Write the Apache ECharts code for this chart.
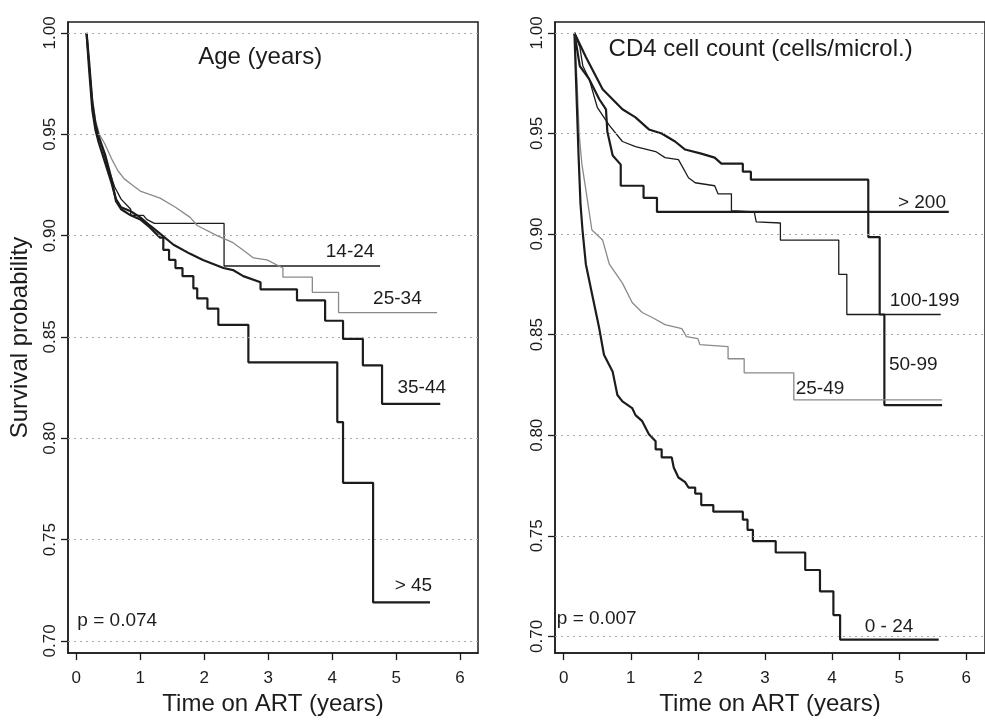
<!DOCTYPE html>
<html>
<head>
<meta charset="utf-8">
<title>Survival by age and CD4 count</title>
<script src="https://cdn.jsdelivr.net/npm/echarts@6/dist/echarts.min.js"></script>
<style>
  html, body { margin: 0; padding: 0; background: #fff; }
  #chart { width: 985px; height: 721px; }
</style>
</head>
<body>
<div id="chart"></div>
<script>
// tick labels
const xTicks = [0, 1, 2, 3, 4, 5, 6];
const yTicks = [0.70, 0.75, 0.80, 0.85, 0.90, 0.95, 1.00];

// left panel: age groups, [time (years), survival]
const age1424 = [[0.16, 1], [0.2, 0.984], [0.26, 0.963], [0.32, 0.952], [0.4, 0.944], [0.5, 0.933], [0.6, 0.924], [0.7, 0.918], [0.85, 0.913], [0.85, 0.91], [1.05, 0.91], [1.1, 0.908], [1.22, 0.906], [2.31, 0.906], [2.31, 0.885], [4.75, 0.885]];
const age2534 = [[0.16, 1], [0.2, 0.985], [0.25, 0.968], [0.3, 0.957], [0.36, 0.95], [0.45, 0.945], [0.55, 0.938], [0.65, 0.932], [0.75, 0.928], [0.875, 0.925], [1.0, 0.922], [1.31, 0.9185], [1.55, 0.914], [1.78, 0.909], [1.89, 0.905], [2.2, 0.9], [2.45, 0.8965], [2.6, 0.893], [2.77, 0.889], [2.98, 0.888], [3.23, 0.884], [3.23, 0.8795], [3.69, 0.8795], [3.69, 0.872], [4.1, 0.872], [4.1, 0.862], [5.64, 0.862]];
const age3544 = [[0.16, 1], [0.2, 0.982], [0.25, 0.962], [0.3, 0.952], [0.35, 0.946], [0.45, 0.936], [0.55, 0.926], [0.62, 0.918], [0.7, 0.914], [0.85, 0.912], [1.0, 0.909], [1.15, 0.905], [1.27, 0.902], [1.52, 0.8955], [1.78, 0.891], [1.98, 0.888], [2.3, 0.884], [2.45, 0.883], [2.61, 0.88], [2.88, 0.877], [2.88, 0.8735], [3.45, 0.8735], [3.45, 0.868], [3.89, 0.868], [3.89, 0.858], [4.17, 0.858], [4.17, 0.849], [4.48, 0.849], [4.48, 0.836], [4.78, 0.836], [4.78, 0.817], [5.69, 0.817]];
const age45 = [[0.16, 1], [0.2, 0.986], [0.25, 0.966], [0.3, 0.955], [0.35, 0.949], [0.45, 0.94], [0.55, 0.928], [0.62, 0.917], [0.7, 0.913], [0.85, 0.91], [1.0, 0.908], [1.15, 0.904], [1.31, 0.899], [1.36, 0.899], [1.36, 0.893], [1.45, 0.893], [1.45, 0.888], [1.55, 0.888], [1.55, 0.884], [1.66, 0.884], [1.66, 0.88], [1.83, 0.88], [1.83, 0.874], [1.89, 0.874], [1.89, 0.869], [2.05, 0.869], [2.05, 0.864], [2.22, 0.864], [2.22, 0.856], [2.69, 0.856], [2.69, 0.8375], [4.08, 0.8375], [4.08, 0.808], [4.17, 0.808], [4.17, 0.778], [4.64, 0.778], [4.64, 0.719], [5.53, 0.719]];

// right panel: CD4 groups
const cd4Over200 = [[0.16, 1], [0.24, 0.9835], [0.38, 0.977], [0.53, 0.967], [0.63, 0.962], [0.65, 0.951], [0.73, 0.939], [0.85, 0.9345], [0.85, 0.924], [1.19, 0.924], [1.19, 0.918], [1.39, 0.918], [1.39, 0.911], [5.74, 0.911]];
const cd4100199 = [[0.16, 1], [0.24, 0.993], [0.285, 0.9835], [0.38, 0.977], [0.5, 0.963], [0.68, 0.954], [0.875, 0.946], [1.07, 0.9435], [1.37, 0.941], [1.51, 0.938], [1.71, 0.937], [1.86, 0.928], [1.96, 0.9255], [2.25, 0.924], [2.3, 0.92], [2.5, 0.92], [2.5, 0.9116], [2.84, 0.911], [2.87, 0.906], [3.23, 0.9055], [3.23, 0.897], [4.1, 0.897], [4.1, 0.88], [4.22, 0.88], [4.22, 0.86], [5.62, 0.86]];
const cd45099 = [[0.16, 1], [0.33, 0.988], [0.58, 0.972], [0.875, 0.962], [1.07, 0.958], [1.27, 0.952], [1.46, 0.95], [1.66, 0.946], [1.81, 0.942], [2.05, 0.94], [2.25, 0.938], [2.35, 0.935], [2.67, 0.935], [2.67, 0.931], [2.79, 0.931], [2.79, 0.927], [4.54, 0.927], [4.54, 0.8985], [4.71, 0.8985], [4.71, 0.86], [4.78, 0.86], [4.78, 0.815], [5.64, 0.815]];
const cd42549 = [[0.16, 1], [0.2, 0.975], [0.23, 0.95], [0.27, 0.935], [0.33, 0.922], [0.42, 0.902], [0.58, 0.897], [0.68, 0.885], [0.875, 0.8756], [1.02, 0.866], [1.17, 0.861], [1.32, 0.8585], [1.51, 0.855], [1.76, 0.853], [1.83, 0.849], [2.0, 0.848], [2.03, 0.845], [2.45, 0.844], [2.45, 0.838], [2.69, 0.838], [2.69, 0.831], [3.43, 0.831], [3.43, 0.8176], [5.64, 0.8176]];
const cd4024 = [[0.16, 1], [0.19, 0.97], [0.22, 0.94], [0.25, 0.915], [0.28, 0.902], [0.33, 0.885], [0.43, 0.869], [0.53, 0.853], [0.6, 0.84], [0.73, 0.8315], [0.8, 0.82], [0.875, 0.8168], [1.02, 0.8135], [1.07, 0.81], [1.17, 0.807], [1.27, 0.8005], [1.37, 0.797], [1.37, 0.793], [1.46, 0.793], [1.46, 0.789], [1.61, 0.789], [1.64, 0.784], [1.71, 0.779], [1.81, 0.7767], [1.86, 0.774], [1.96, 0.774], [1.96, 0.771], [2.05, 0.771], [2.05, 0.7653], [2.23, 0.7653], [2.23, 0.762], [2.67, 0.762], [2.67, 0.758], [2.74, 0.758], [2.74, 0.753], [2.82, 0.753], [2.82, 0.7474], [3.16, 0.7474], [3.16, 0.7417], [3.6, 0.7417], [3.6, 0.733], [3.82, 0.733], [3.82, 0.7224], [4.02, 0.7224], [4.02, 0.7106], [4.12, 0.7106], [4.12, 0.6984], [5.59, 0.6984]];

// in-plot text
const leftNotes = ['Age (years)', '14-24', '25-34', '35-44', '> 45', 'p = 0.074'];
const leftNoteAt = [[2.875, 0.988], [4.28, 0.892], [5.02, 0.869], [5.40, 0.825], [5.27, 0.727], [0.016, 0.7098]];
const rightNotes = ['CD4 cell count (cells/microl.)', '> 200', '100-199', '50-99', '25-49', '0 - 24', 'p = 0.007'];
const rightNoteAt = [[2.935, 0.9917], [5.34, 0.9157], [5.38, 0.8667], [5.21, 0.835], [3.82, 0.823], [4.85, 0.705], [-0.103, 0.709]];

const font = "'Liberation Sans', Arial, Helvetica, sans-serif";
const ink = '#1c1c1c';
const grey = '#8a8a8a';

function xAxisFor(idx) {
  return {
    type: 'value', gridIndex: idx, min: -0.13, max: 6.28,
    name: 'Time on ART (years)', nameLocation: 'middle', nameGap: 36,
    nameTextStyle: { fontFamily: font, fontSize: 24, color: ink },
    axisLine: { show: true, onZero: false, lineStyle: { color: ink, width: 1.5 } },
    axisTick: { show: true, length: 7, customValues: xTicks, lineStyle: { color: ink, width: 1.3 } },
    axisLabel: { customValues: xTicks, margin: 17, fontFamily: font, fontSize: 17, color: ink },
    splitLine: { show: false }
  };
}

function yAxisFor(idx, min, name) {
  return {
    type: 'value', gridIndex: idx, min: min, max: 1.0054,
    name: name, nameLocation: 'middle', nameGap: 36,
    nameTextStyle: { fontFamily: font, fontSize: 24, color: ink },
    axisLine: { show: true, onZero: false, lineStyle: { color: ink, width: 1.5 } },
    axisTick: { show: true, length: 7, customValues: yTicks, lineStyle: { color: ink, width: 1.3 } },
    axisLabel: {
      customValues: yTicks, rotate: 90, margin: 9, fontFamily: font, fontSize: 17, color: ink,
      formatter: (v) => v.toFixed(2)
    },
    splitLine: { show: false }
  };
}

function curve(data, idx, color, width, withGrid) {
  const s = {
    type: 'line', xAxisIndex: idx, yAxisIndex: idx, data: data,
    showSymbol: false, symbol: 'none', silent: true,
    lineStyle: { color: color, width: width }
  };
  if (withGrid) {
    s.markLine = {
      silent: true, symbol: 'none', label: { show: false },
      lineStyle: { color: '#a8a8a8', type: [2, 4], width: 1 },
      data: yTicks.map((v) => ({ yAxis: v }))
    };
  }
  return s;
}

function notes(texts, at, idx) {
  return {
    type: 'scatter', xAxisIndex: idx, yAxisIndex: idx, symbolSize: 0, silent: true,
    itemStyle: { color: ink, opacity: 1 },
    data: texts.map((t, i) => {
      const big = i === 0;
      return {
        name: t,
        value: at[i],
        label: {
          show: true, position: 'inside', formatter: '{b}', opacity: 1,
          fontFamily: font, fontSize: big ? 24 : 19, color: ink, textBorderWidth: 0,
          align: t.indexOf('p =') === 0 ? 'left' : 'center'
        }
      };
    })
  };
}

const chart = echarts.init(document.getElementById('chart'), null, { renderer: 'canvas' });

chart.setOption({
  animation: false,
  backgroundColor: '#fff',
  grid: [
    { left: 68, top: 22, width: 410, height: 638, show: true, borderColor: ink, borderWidth: 1.5 },
    { left: 555, top: 22, width: 435, height: 640, show: true, borderColor: ink, borderWidth: 1.5 }
  ],
  xAxis: [xAxisFor(0), xAxisFor(1)],
  yAxis: [yAxisFor(0, 0.694, 'Survival probability'), yAxisFor(1, 0.6917, '')],
  series: [
    curve(age1424, 0, ink, 1.3, true),
    curve(age2534, 0, grey, 1.3, false),
    curve(age3544, 0, ink, 2.2, false),
    curve(age45, 0, ink, 2.2, false),
    notes(leftNotes, leftNoteAt, 0),

    curve(cd4Over200, 1, ink, 2.2, true),
    curve(cd4100199, 1, ink, 1.3, false),
    curve(cd45099, 1, ink, 2.2, false),
    curve(cd42549, 1, grey, 1.3, false),
    curve(cd4024, 1, ink, 2.2, false),
    notes(rightNotes, rightNoteAt, 1)
  ]
});
</script>
</body>
</html>
